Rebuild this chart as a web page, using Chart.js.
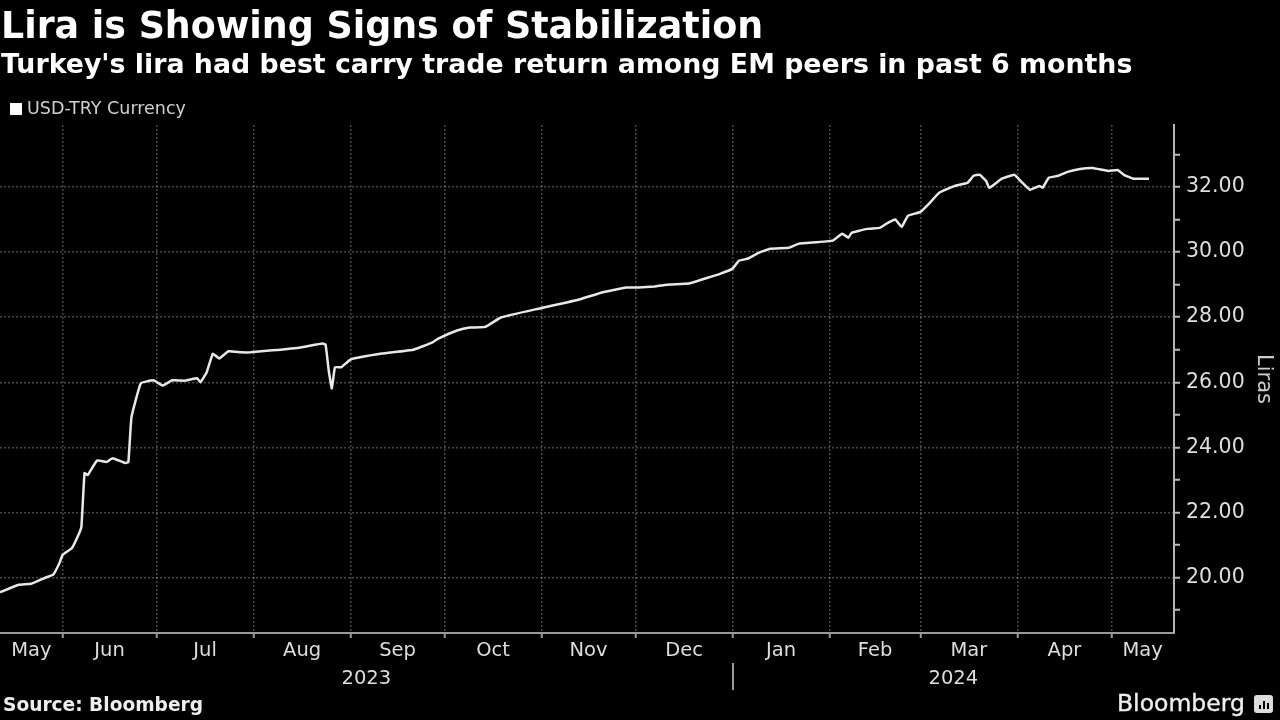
<!DOCTYPE html>
<html lang="en">
<head>
<meta charset="UTF-8" />
<title>Lira is Showing Signs of Stabilization</title>
<script src="https://cdn.jsdelivr.net/npm/chart.js"></script>
<style>
  body {
    margin: 0;
    background: #000;
    width: 1280px;
    height: 720px;
    overflow: hidden;
    position: relative;
    font-family: "DejaVu Sans", sans-serif;
    color: #fff;
  }
  #chart { position: absolute; left: 0; top: 0; }
  .txt { position: absolute; white-space: nowrap; line-height: 1; }
  .title { left: 1px; top: 8px; font-size: 36.4px; font-weight: bold; }
  .subtitle { left: 1px; top: 51px; font-size: 26.8px; font-weight: bold; }
  .legend { left: 10px; top: 100px; font-size: 17.5px; color: #d0d0d0; }
  .legend span {
    display: inline-block; width: 12px; height: 12px; background: #fff;
    margin-right: 5px; vertical-align: -1px;
  }
  .source { left: 3px; top: 696px; font-size: 18.6px; font-weight: bold; color: #eee; }
  .brand { left: 1117px; top: 692px; font-size: 23.5px; color: #eee; -webkit-text-stroke: 0.4px #eee; }
  .icon {
    position: absolute; left: 1254px; top: 695px; width: 19px; height: 18px;
    background: #ddd; border-radius: 3px;
  }
  .icon i { position: absolute; bottom: 4px; width: 2px; background: #000; }
</style>
</head>
<body>
<canvas id="chart" width="1280" height="720"></canvas>
<div class="txt title">Lira is Showing Signs of Stabilization</div>
<div class="txt subtitle">Turkey's lira had best carry trade return among EM peers in past 6 months</div>
<div class="txt legend"><span></span>USD-TRY Currency</div>
<div class="txt source">Source: Bloomberg</div>
<div class="txt brand">Bloomberg</div>
<div class="icon"><i style="left:5px;height:4px"></i><i style="left:9px;height:8px"></i><i style="left:13px;height:6px"></i></div>

<script>
  // USD-TRY
  const dates = [
    "2023-05-12", "2023-05-18", "2023-05-22", "2023-05-26", "2023-05-29", "2023-05-31",
    "2023-06-01", "2023-06-04", "2023-06-06", "2023-06-07", "2023-06-08", "2023-06-09",
    "2023-06-12", "2023-06-15", "2023-06-17", "2023-06-21", "2023-06-22", "2023-06-23",
    "2023-06-26", "2023-06-30", "2023-07-03", "2023-07-06", "2023-07-10", "2023-07-14",
    "2023-07-15", "2023-07-17", "2023-07-19", "2023-07-21", "2023-07-24", "2023-07-28",
    "2023-07-31", "2023-08-07", "2023-08-16", "2023-08-23", "2023-08-24", "2023-08-25",
    "2023-08-26", "2023-08-27", "2023-08-29", "2023-09-01", "2023-09-11", "2023-09-21",
    "2023-09-27", "2023-09-29", "2023-10-05", "2023-10-09", "2023-10-14", "2023-10-19",
    "2023-10-31", "2023-11-09", "2023-11-13", "2023-11-20", "2023-11-28", "2023-12-02",
    "2023-12-07", "2023-12-12", "2023-12-18", "2023-12-23", "2023-12-28", "2024-01-01",
    "2024-01-03", "2024-01-06", "2024-01-09", "2024-01-13", "2024-01-19", "2024-01-22",
    "2024-02-02", "2024-02-05", "2024-02-07", "2024-02-08", "2024-02-13", "2024-02-17",
    "2024-02-19", "2024-02-21", "2024-02-22", "2024-02-24", "2024-02-26", "2024-03-01",
    "2024-03-04", "2024-03-07", "2024-03-12", "2024-03-16", "2024-03-18", "2024-03-20",
    "2024-03-22", "2024-03-23", "2024-03-27", "2024-03-31", "2024-04-02", "2024-04-05",
    "2024-04-08", "2024-04-09", "2024-04-11", "2024-04-14", "2024-04-17", "2024-04-21",
    "2024-04-25", "2024-04-30", "2024-05-03", "2024-05-05", "2024-05-08", "2024-05-13"
  ];
  const values = [
    19.55, 19.78, 19.81, 19.98, 20.09, 20.45,
    20.70, 20.91, 21.30, 21.56, 23.21, 23.15,
    23.60, 23.55, 23.67, 23.52, 23.55, 24.93,
    25.97, 26.06, 25.90, 26.06, 26.05, 26.12,
    26.00, 26.30, 26.88, 26.73, 26.95, 26.92,
    26.92, 26.98, 27.07, 27.19, 27.15, 26.36,
    25.81, 26.46, 26.46, 26.70, 26.88, 27.00,
    27.22, 27.34, 27.59, 27.68, 27.70, 27.99,
    28.26, 28.45, 28.54, 28.75, 28.91, 28.91,
    28.94, 29.00, 29.03, 29.18, 29.33, 29.49,
    29.73, 29.80, 29.96, 30.10, 30.13, 30.25,
    30.35, 30.56, 30.44, 30.59, 30.71, 30.74,
    30.86, 30.96, 31.00, 30.77, 31.11, 31.23,
    31.51, 31.82, 32.03, 32.12, 32.34, 32.37,
    32.18, 31.97, 32.25, 32.37, 32.18, 31.91,
    32.03, 31.97, 32.28, 32.34, 32.46, 32.55,
    32.58, 32.49, 32.52, 32.37, 32.25, 32.25
  ];

  const monthLabels = ["May", "Jun", "Jul", "Aug", "Sep", "Oct", "Nov", "Dec", "Jan", "Feb", "Mar", "Apr", "May"];
  const monthStarts = [
    "2023-05-01", "2023-06-01", "2023-07-01", "2023-08-01", "2023-09-01", "2023-10-01", "2023-11-01",
    "2023-12-01", "2024-01-01", "2024-02-01", "2024-03-01", "2024-04-01", "2024-05-01", "2024-06-01"
  ];
  const years = ["2023", "2024"];
  const yearBreak = "2024-01-01";
  const axisStart = "2023-05-12";
  const axisEnd = "2024-05-21";
  const yMajor = [20, 22, 24, 26, 28, 30, 32];
  const yMinor = [19, 21, 23, 25, 27, 29, 31, 33];
  const yMin = 18.3;
  const yMax = 33.9;

  const day = (s) => (Date.parse(s) - Date.parse("2023-06-01")) / 864e5;
  const xMin = day(axisStart);
  const xMax = day(axisEnd);

  const gridTicks = monthStarts.map(day).filter((d) => d > xMin && d < xMax);
  const monthCenters = monthLabels.map((m, i) => {
    const a = Math.max(day(monthStarts[i]), xMin);
    const b = Math.min(day(monthStarts[i + 1]), xMax);
    return (a + b) / 2;
  });
  const yearCenters = [(xMin + day(yearBreak)) / 2, (day(yearBreak) + xMax) / 2];
  const yTicks = yMajor.concat(yMinor).sort((a, b) => a - b);

  const gridColor = "rgba(255,255,255,0.28)";
  const axisColor = "#9a9a9a";
  const labelColor = "#dedede";

  Chart.defaults.font.family = "DejaVu Sans";
  Chart.defaults.font.size = 19.5;
  Chart.defaults.color = labelColor;

  const yearDivider = {
    id: "yearDivider",
    afterDraw(chart) {
      const { ctx, scales } = chart;
      const x = Math.round(scales.x.getPixelForValue(day(yearBreak)));
      ctx.save();
      ctx.strokeStyle = axisColor;
      ctx.lineWidth = 2;
      ctx.beginPath();
      ctx.moveTo(x, scales.xm.bottom);
      ctx.lineTo(x, scales.xy.bottom - 3);
      ctx.stroke();
      ctx.restore();
    },
  };

  new Chart(document.getElementById("chart"), {
    type: "line",
    data: {
      datasets: [
        {
          label: "USD-TRY Currency",
          data: dates.map((d, i) => ({ x: day(d), y: values[i] })),
          borderColor: "#e8e8e8",
          borderWidth: 2.5,
          pointRadius: 0,
          tension: 0.1,
        },
      ],
    },
    options: {
      responsive: false,
      animation: false,
      layout: { padding: { top: 125, left: 0, right: 0, bottom: 27 } },
      plugins: { legend: { display: false }, tooltip: { enabled: false } },
      scales: {
        x: {
          type: "linear",
          position: "bottom",
          weight: 0,
          min: xMin,
          max: xMax,
          afterBuildTicks: (s) => { s.ticks = gridTicks.map((v) => ({ value: v })); },
          afterFit: (s) => { s.height = 6; },
          ticks: { display: false },
          grid: { color: gridColor, lineWidth: 1.5, tickColor: axisColor, tickLength: 5, tickWidth: 2 },
          border: { color: axisColor, width: 2, dash: [2, 2] },
        },
        xm: {
          type: "linear",
          position: "bottom",
          weight: 1,
          min: xMin,
          max: xMax,
          afterBuildTicks: (s) => { s.ticks = monthCenters.map((v) => ({ value: v })); },
          afterFit: (s) => { s.height = 24; },
          ticks: { autoSkip: false, maxRotation: 0, padding: 0, callback: (v, i) => monthLabels[i] },
          grid: { display: false, drawTicks: false },
          border: { display: false },
        },
        xy: {
          type: "linear",
          position: "bottom",
          weight: 2,
          min: xMin,
          max: xMax,
          afterBuildTicks: (s) => { s.ticks = yearCenters.map((v) => ({ value: v })); },
          afterFit: (s) => { s.height = 30; },
          ticks: { autoSkip: false, maxRotation: 0, padding: 4, callback: (v, i) => years[i] },
          grid: { display: false, drawTicks: false },
          border: { display: false },
        },
        y: {
          position: "right",
          min: yMin,
          max: yMax,
          afterBuildTicks: (s) => { s.ticks = yTicks.map((v) => ({ value: v })); },
          afterFit: (s) => { s.width = 106; },
          ticks: {
            padding: 6,
            font: { size: 20.5 },
            callback: (v) => (v % 2 === 0 ? v.toFixed(2) : ""),
          },
          grid: {
            color: (c) => (c.tick && c.tick.value % 2 === 0 ? gridColor : "rgba(0,0,0,0)"),
            lineWidth: 1.5,
            tickColor: "#bbbbbb",
            tickLength: 6,
            tickWidth: 2,
          },
          border: { color: "#b5b5b5", width: 2, dash: [2, 2] },
          title: { display: true, text: "Liras", color: "#cccccc", font: { size: 21 }, padding: { top: 4, bottom: 4 } },
        },
      },
    },
    plugins: [yearDivider],
  });
</script>
</body>
</html>
